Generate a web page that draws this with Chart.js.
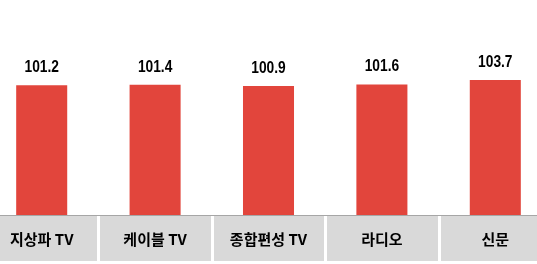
<!DOCTYPE html>
<html>
<head>
<meta charset="utf-8">
<script src="https://cdn.jsdelivr.net/npm/chart.js@4/dist/chart.umd.min.js"></script>
<style>
html,body{margin:0;padding:0;background:#fff;overflow:hidden;width:537px;height:264px;}
#wrap{position:absolute;left:-15px;top:0;width:567px;height:264px;}
</style>
</head>
<body>
<div id="wrap"><canvas id="c" width="567" height="264"></canvas></div>
<script>
const categories = ['지상파 TV', '케이블 TV', '종합편성 TV', '라디오', '신문'];
const values = [101.2, 101.4, 100.9, 101.6, 103.7];
const valueLabels = ['101.2', '101.4', '100.9', '101.6', '103.7'];

const decor = {
  id: 'decor',
  afterDatasetsDraw(chart) {
    const ctx = chart.ctx;
    const area = chart.chartArea;
    const meta = chart.getDatasetMeta(0);
    const xs = chart.scales.x;
    ctx.save();
    // value labels (narrow bold)
    ctx.fillStyle = '#000';
    ctx.font = 'bold 16px "Liberation Sans", Arial, sans-serif';
    ctx.textAlign = 'center';
    ctx.textBaseline = 'alphabetic';
    meta.data.forEach((bar, i) => {
      ctx.save();
      ctx.translate(bar.x, bar.y - 13);
      ctx.scale(0.86, 1);
      ctx.fillText(valueLabels[i], 0, 0);
      ctx.restore();
    });
    // category boxes
    const n = categories.length;
    const w = (xs.right - xs.left) / n;
    const top = area.bottom;
    ctx.fillStyle = '#a6a6a6';
    ctx.fillRect(xs.left, top, xs.right - xs.left, 1);
    ctx.fillStyle = '#d9d9d9';
    ctx.fillRect(xs.left, top + 1, xs.right - xs.left, 45);
    ctx.fillStyle = '#ffffff';
    for (let i = 1; i < n; i++) {
      const sx = xs.left + w * i;
      ctx.fillRect(Math.round(sx) - 1, top + 1, 3, 45);
    }
    ctx.fillStyle = '#000';
    ctx.font = 'bold 15px "Noto Sans CJK KR", sans-serif';
    ctx.textBaseline = 'middle';
    categories.forEach((c, i) => {
      ctx.fillText(c, xs.getPixelForValue(i), top + 24);
    });
    ctx.restore();
  }
};

new Chart(document.getElementById('c'), {
  type: 'bar',
  data: {
    labels: categories,
    datasets: [{
      data: values,
      backgroundColor: '#e2453c',
      borderWidth: 0,
      categoryPercentage: 1,
      barPercentage: 0.45
    }]
  },
  options: {
    responsive: false,
    animation: false,
    layout: { padding: { top: 3, bottom: 49, left: 0, right: 0 } },
    plugins: { legend: { display: false }, tooltip: { enabled: false } },
    scales: {
      x: { display: false, grid: { display: false } },
      y: { display: false, min: 40, max: 140 }
    }
  },
  plugins: [decor]
});
</script>
</body>
</html>
